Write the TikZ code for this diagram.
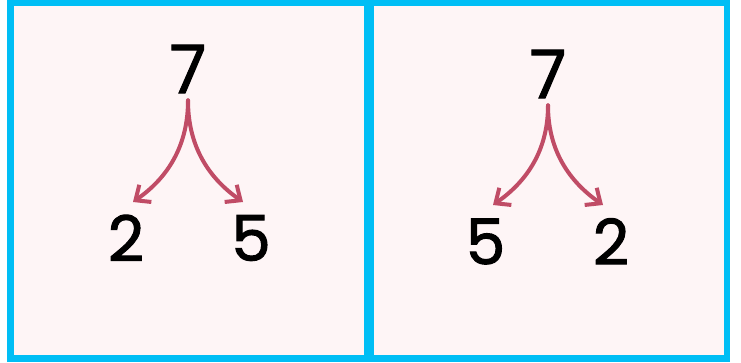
\documentclass[tikz,border=0pt]{standalone}
\usepackage{fontspec}
\setmainfont{Poppins}
\newfontfamily\numfont{Poppins}[FakeBold=1.6]
\usetikzlibrary{arrows.meta}
\definecolor{frameblue}{RGB}{0,190,245}
\definecolor{panelpink}{RGB}{254,245,246}
\definecolor{arrowred}{RGB}{192,76,102}
\tikzset{
  bignum/.style={inner sep=0pt, font=\numfont\fontsize{67}{67}\selectfont},
  smallnum/.style={inner sep=0pt, font=\numfont\fontsize{63}{63}\selectfont},
  splitarrow/.style={draw=arrowred, line width=4pt, line cap=round,
    -{Straight Barb[length=12pt,width=21pt,line width=4pt]}},
}
\begin{document}
\begin{tikzpicture}[x=1pt,y=1pt]
\useasboundingbox (0,0) rectangle (741,362);
\fill[white] (0,0) rectangle (741,362);
\fill[frameblue] (7,0) rectangle (730,362);
\fill[panelpink] (14,7) rectangle (364,356);
\fill[panelpink] (374,7) rectangle (724,356);
% left panel
\node[bignum] (sevenL) at (188,293) {7};
\node[smallnum] (twoL) at (126,124) {2};
\node[smallnum] (fiveL) at (251,124) {5};
\coordinate (tipLa) at (133,160);
\coordinate (tipLb) at (243,160);
\draw[splitarrow, shorten <=7pt] (sevenL.south) to[out=-90,in=35] (tipLa);
\draw[splitarrow, shorten <=7pt] (sevenL.south) to[out=-90,in=145] (tipLb);
% right panel
\node[bignum] (sevenR) at (548,288) {7};
\node[smallnum] (fiveR) at (485.5,120.5) {5};
\node[smallnum] (twoR) at (611,120.5) {2};
\coordinate (tipRa) at (493,157);
\coordinate (tipRb) at (603,157);
\draw[splitarrow, shorten <=7pt] (sevenR.south) to[out=-90,in=35] (tipRa);
\draw[splitarrow, shorten <=7pt] (sevenR.south) to[out=-90,in=145] (tipRb);
\end{tikzpicture}
\end{document}
